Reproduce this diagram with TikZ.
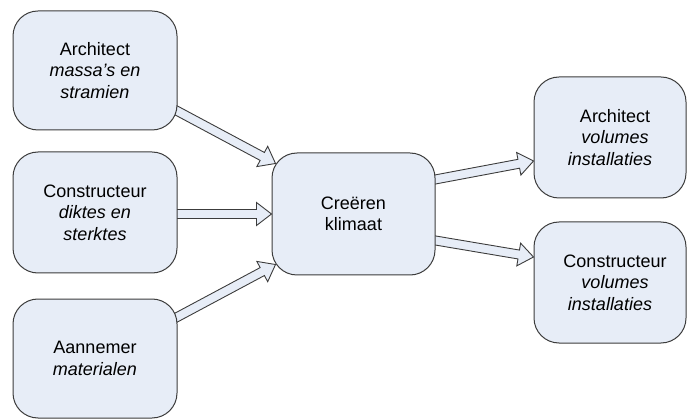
\documentclass[tikz,border=0pt]{standalone}
\usepackage{fontspec}
\setmainfont{Liberation Sans}
\usetikzlibrary{calc,backgrounds}

\definecolor{boxfill}{RGB}{231,237,247}
\definecolor{boxline}{RGB}{60,60,60}

% text in the right-hand boxes sits a little right of centre
\newcommand\nudgeright{\leftskip=10pt plus 1fil\rightskip=0pt plus 1fil\parfillskip=0pt\relax}

\tikzset{
  stepbox/.style={draw=boxline, line width=1pt, fill=boxfill,
    rounded corners=25pt, align=center, inner sep=2pt,
    font=\fontsize{18}{21.5}\selectfont},
  leftbox/.style={stepbox, minimum width=164pt, minimum height=119pt},
  midbox/.style={stepbox, minimum width=163pt, minimum height=122pt},
  rightbox/.style={stepbox, minimum width=152pt, minimum height=121pt, text width=140pt},
  arrowbody/.style={draw=boxline, line width=0.9pt, fill=boxfill, line join=miter}
}

% hollow block arrow from #1 to #2
\newcommand\flowarrow[2]{%
  \coordinate (fa-b) at ($(#2)!15pt!(#1)$);
  \draw[arrowbody] ($(#1)!4.5pt!-90:(#2)$) -- ($(fa-b)!4.5pt!90:(#1)$)
    -- ($(fa-b)!11.5pt!90:(#1)$) -- (#2) -- ($(fa-b)!11.5pt!-90:(#1)$)
    -- ($(fa-b)!4.5pt!-90:(#1)$) -- ($(#1)!4.5pt!90:(#2)$) -- cycle;}

\begin{document}
\begin{tikzpicture}[x=1pt, y=-1pt]
  \useasboundingbox (0,0) rectangle (687,419);

  % sources
  \node[leftbox] (a1) at (95,70.5) {Architect\\\textit{massa's en}\\\textit{stramien}};
  \node[leftbox, minimum height=121pt] (a2) at (95,212.5) {Constructeur\\\textit{diktes en}\\\textit{sterktes}};
  \node[leftbox] (a3) at (95,358.5) {Aannemer\\\textit{materialen}};

  % central step
  \node[midbox] (c) at (353.5,214) {Creëren\\klimaat};

  % results
  \node[rightbox] (r1) at (610,137.5) {\nudgeright Architect\\\textit{volumes}\\\textit{installaties}};
  \node[rightbox] (r2) at (610,282.5) {\nudgeright Constructeur\\\textit{volumes}\\\textit{installaties}};

  % arrow end points on the box borders
  \coordinate (s1) at ($(a1.east)+(-3,39)$);
  \coordinate (t1) at ($(c.north west)+(4,11)$);
  \coordinate (s2) at ($(a2.east |- c.west)+(-3,0)$);
  \coordinate (t2) at (c.west);
  \coordinate (s3) at ($(a3.east)+(-3,-40)$);
  \coordinate (t3) at ($(c.south west)+(4,-11)$);
  \coordinate (s4) at ($(c.east)+(-3,-34)$);
  \coordinate (t4) at ($(r1.west)+(0,23.5)$);
  \coordinate (s5) at ($(c.east)+(-3,26)$);
  \coordinate (t5) at ($(r2.west)+(0,-25.5)$);

  \begin{pgfonlayer}{background}
    \flowarrow{s1}{t1}
    \flowarrow{s2}{t2}
    \flowarrow{s3}{t3}
    \flowarrow{s4}{t4}
    \flowarrow{s5}{t5}
  \end{pgfonlayer}
\end{tikzpicture}
\end{document}
